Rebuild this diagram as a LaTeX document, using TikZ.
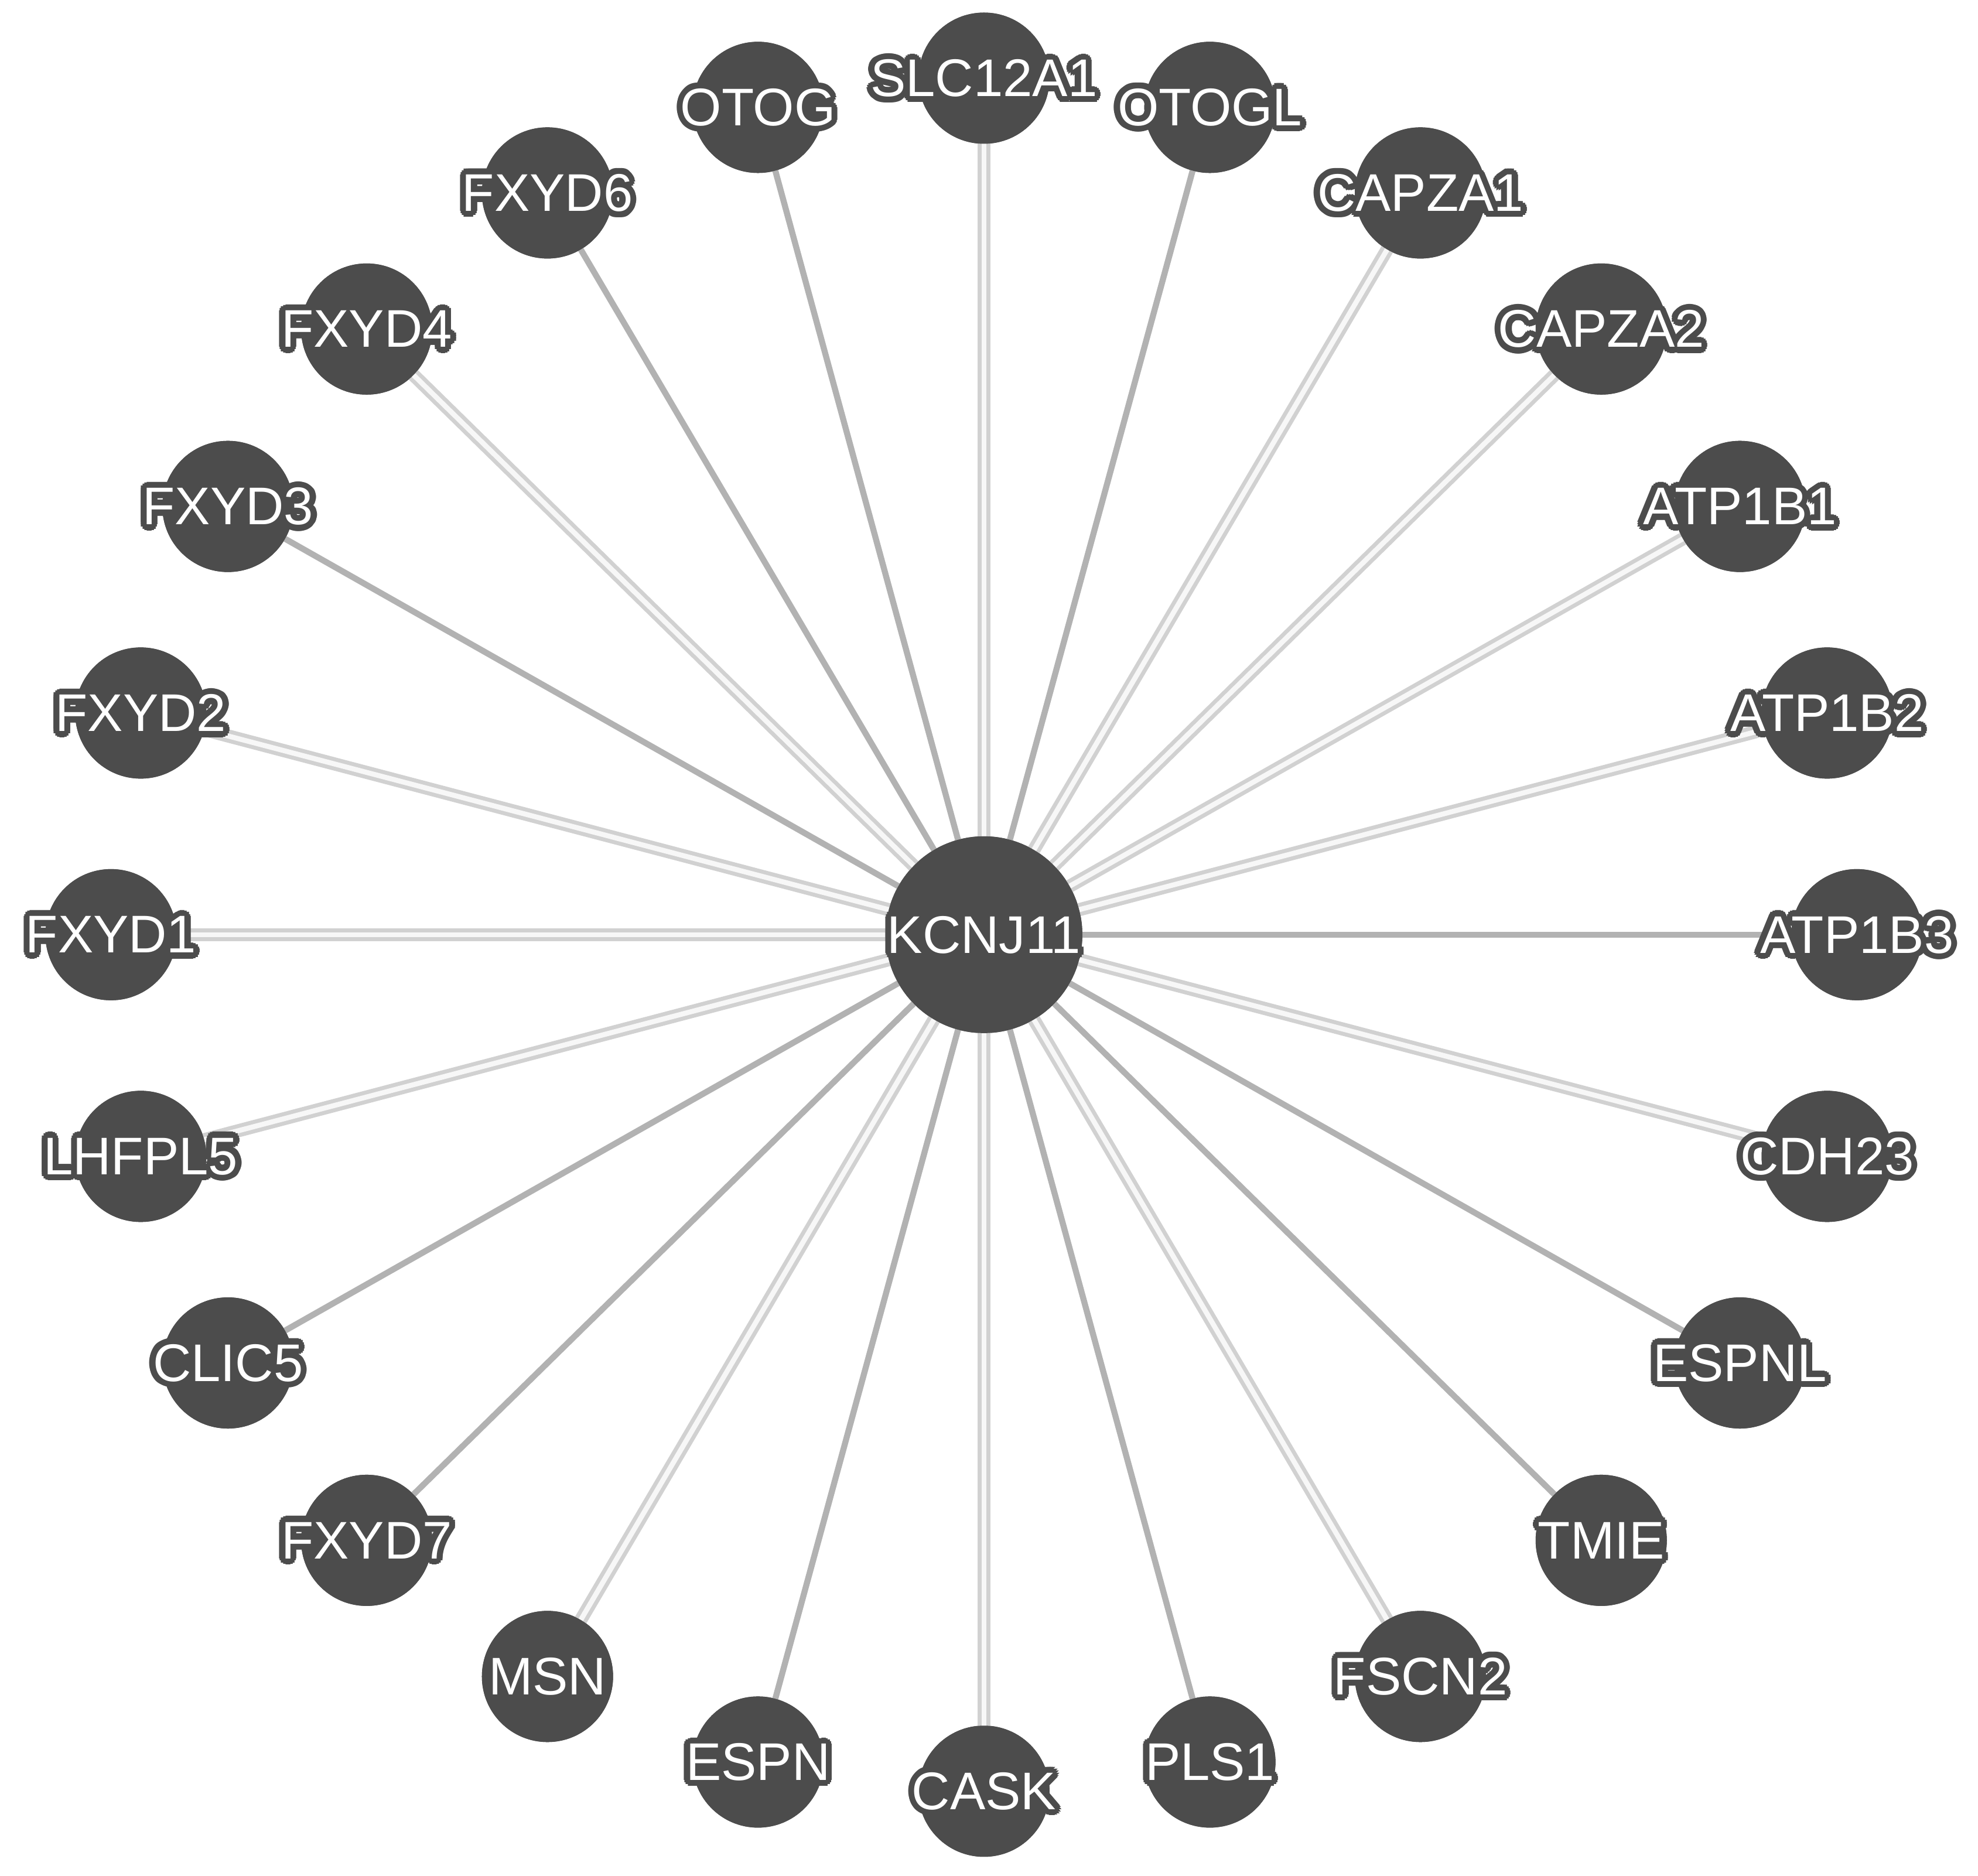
\documentclass[tikz,border=0pt]{standalone}
\usepackage{fontspec}
\setmainfont{Liberation Sans}
\usetikzlibrary{calc}
\tikzset{
  outer/.style={circle,fill=black!70,inner sep=0pt,minimum size=52pt},
  hub/.style={circle,fill=black!70,inner sep=0pt,minimum size=78pt},
  lblk/.style={text=black!70,font=\fontsize{21}{21}\selectfont,inner sep=0pt},
  lblw/.style={text=white,font=\fontsize{21}{21}\selectfont,inner sep=0pt},
  dbl/.style={draw=black!18,line width=1.6pt,double=white!97!black,double distance=2pt},
  sgl/.style={draw=black!30,line width=2.4pt}
}
\newcommand\lbl[2]{%
  \foreach \a in {0,22.5,...,337.5}{\node[lblk] at ($(#1)+(\a:2.4pt)$) {#2};}%
  \node[lblw] at (#1) {#2};}
\begin{document}
\begin{tikzpicture}[x=0.5pt,y=0.5pt]
\useasboundingbox (0,0) rectangle (1568,1487);
\coordinate (c) at (780,746);
\node[hub] (hubn) at (c) {};
\foreach \i/\n/\s in {0/SLC12A1/dbl,1/OTOGL/sgl,2/CAPZA1/dbl,3/CAPZA2/dbl,4/ATP1B1/dbl,5/ATP1B2/dbl,
  6/ATP1B3/sgl,7/CDH23/dbl,8/ESPNL/sgl,9/TMIE/sgl,10/FSCN2/dbl,11/PLS1/sgl,12/CASK/dbl,13/ESPN/sgl,
  14/MSN/dbl,15/FXYD7/sgl,16/CLIC5/sgl,17/LHFPL5/dbl,18/FXYD1/dbl,19/FXYD2/dbl,20/FXYD3/sgl,
  21/FXYD4/dbl,22/FXYD6/sgl,23/OTOG/sgl}{
  \pgfmathsetmacro\ang{90-15*\i}
  \node[outer] (\n) at ($(c)+({692*cos(\ang)},{679*sin(\ang)})$) {};
  \draw[\s] (hubn.center) -- (\n.center);
}
\node[hub] at (c) {};
\foreach \i/\n in {0/SLC12A1,1/OTOGL,2/CAPZA1,3/CAPZA2,4/ATP1B1,5/ATP1B2,6/ATP1B3,7/CDH23,8/ESPNL,
  9/TMIE,10/FSCN2,11/PLS1,12/CASK,13/ESPN,14/MSN,15/FXYD7,16/CLIC5,17/LHFPL5,18/FXYD1,19/FXYD2,
  20/FXYD3,21/FXYD4,22/FXYD6,23/OTOG}{
  \node[outer] at (\n) {};
  \lbl{\n}{\n}
}
\lbl{c}{KCNJ11}
\end{tikzpicture}
\end{document}
